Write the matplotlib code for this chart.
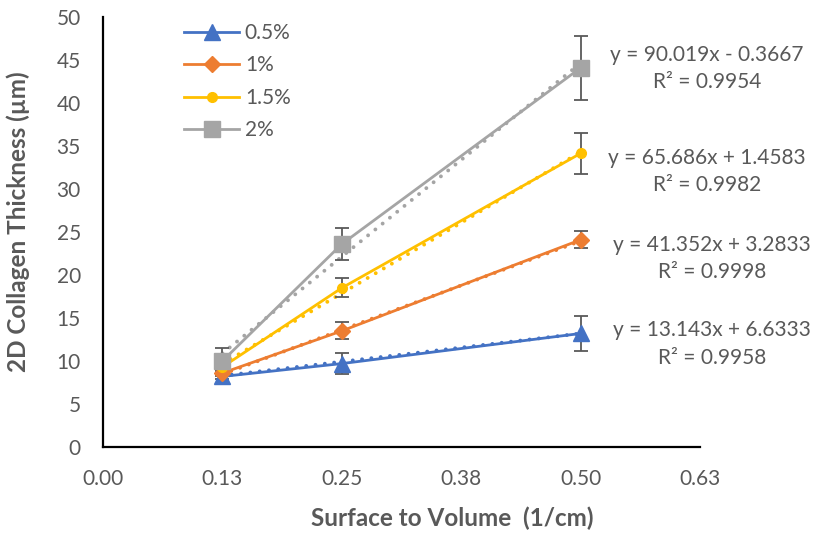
import matplotlib
matplotlib.use("Agg")
import matplotlib.pyplot as plt
import numpy as np

plt.rcParams['font.family'] = ['Lato', 'DejaVu Sans']

# Surface-to-volume ratios (1/cm)
x_vals = [0.125, 0.25, 0.5]

series_names = ["0.5%", "1%", "1.5%", "2%"]
thick_05 = [8.2, 9.7, 13.2]
thick_1 = [8.6, 13.5, 24.1]
thick_15 = [9.3, 18.5, 34.15]
thick_2 = [10.0, 23.6, 44.1]

err_05 = [0.3, 1.25, 2.0]
err_1 = [0.3, 1.0, 1.0]
err_15 = [0.5, 1.1, 2.4]
err_2 = [1.5, 1.9, 3.7]

# Linear trendline coefficients
slopes = [13.143, 41.352, 65.686, 90.019]
intercepts = [6.6333, 3.2833, 1.4583, -0.3667]
r_squared = [0.9958, 0.9998, 0.9982, 0.9954]

x_ticks = [0.0, 0.125, 0.25, 0.375, 0.5, 0.625]
x_tick_labels = ["0.00", "0.13", "0.25", "0.38", "0.50", "0.63"]
y_ticks = [0, 5, 10, 15, 20, 25, 30, 35, 40, 45, 50]

colors = ["#4472C4", "#ED7D31", "#FFC000", "#A5A5A5"]
markers = ["^", "D", "o", "s"]
msizes = [11, 8.5, 7, 11]
text_color = "#595959"

fig = plt.figure(figsize=(8.15, 5.33), dpi=100)
ax = fig.add_axes([0.1264, 0.1614, 0.7326, 0.8066])

all_y = [thick_05, thick_1, thick_15, thick_2]
all_err = [err_05, err_1, err_15, err_2]

xs = np.array(x_vals)
for i in range(4):
    # dotted linear trendline
    xt = np.linspace(xs.min(), xs.max(), 50)
    ax.plot(xt, slopes[i] * xt + intercepts[i], linestyle=(0, (0.01, 2.4)),
            color=colors[i], linewidth=2.8, dash_capstyle='round', zorder=2)
    ax.errorbar(x_vals, all_y[i], yerr=all_err[i], fmt='none',
                ecolor="#595959", elinewidth=1.3, capsize=5, capthick=1.3, zorder=3)
    ax.plot(x_vals, all_y[i], color=colors[i], linewidth=2.0, marker=markers[i],
            markersize=msizes[i], label=series_names[i], zorder=4)

# trendline equations
eq_y = [(330, 358), (245, 272), (158, 185), (55, 82)]
eq_x = [712, 712, 707, 707]
for i in range(4):
    sign = "+" if intercepts[i] >= 0 else "-"
    eq = f"y = {slopes[i]:.3f}x {sign} {abs(intercepts[i]):.4f}"
    r2 = f"R² = {r_squared[i]:.4f}"
    y1, y2 = eq_y[i]
    fig.text(eq_x[i] / 815, 1 - y1 / 533, eq, ha='center', va='center',
             fontsize=15, color=text_color)
    fig.text(eq_x[i] / 815, 1 - y2 / 533, r2, ha='center', va='center',
             fontsize=15, color=text_color)

ax.set_xlim(0, 0.625)
ax.set_ylim(0, 50)
ax.set_xticks(x_ticks)
ax.set_xticklabels(x_tick_labels)
ax.set_yticks(y_ticks)
ax.tick_params(axis='both', length=0, labelsize=15, labelcolor=text_color)
ax.tick_params(axis='y', pad=16)
ax.tick_params(axis='x', pad=16)

for s in ["top", "right"]:
    ax.spines[s].set_visible(False)
for s in ["left", "bottom"]:
    ax.spines[s].set_color("black")
    ax.spines[s].set_linewidth(1.6)

fig.text(18 / 815, 1 - 222 / 533, "2D Collagen Thickness (µm)", rotation=90,
         ha='center', va='center', fontsize=17.5, fontweight='bold', color=text_color)
fig.text(452 / 815, 1 - 518 / 533, "Surface to Volume  (1/cm)",
         ha='center', va='center', fontsize=17.5, fontweight='bold', color=text_color)

leg = ax.legend(loc='upper left', bbox_to_anchor=(0.105, 1.03), frameon=False,
                fontsize=15, handlelength=2.6, labelspacing=0.6, handletextpad=0.3)
for t in leg.get_texts():
    t.set_color(text_color)

fig.savefig("out.png", dpi=100)
